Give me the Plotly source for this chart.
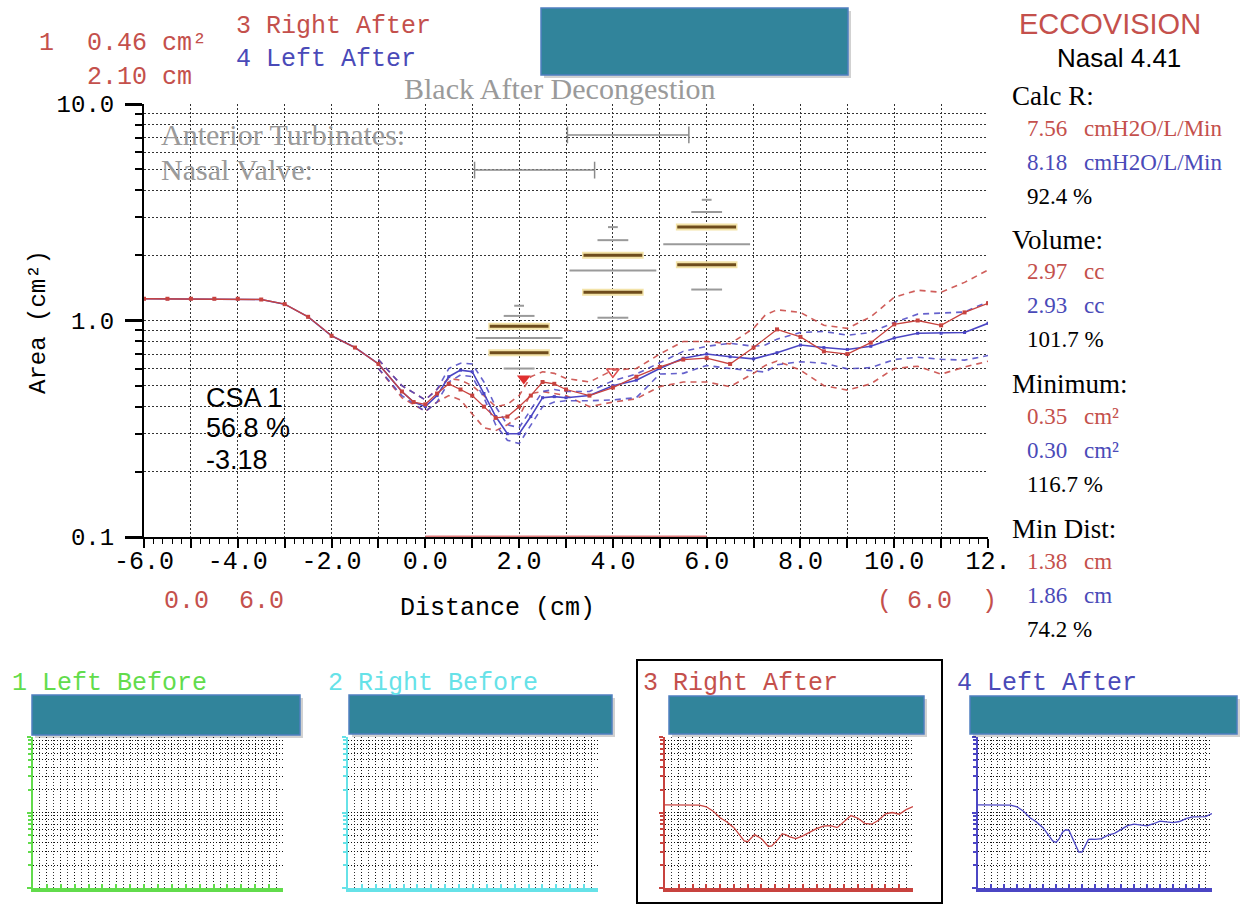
import plotly.graph_objects as go

W, H = 1252, 905

# ---------------- data ----------------
solid_x = [-6, -5.5, -5, -4.5, -4, -3.5, -3, -2.5, -2, -1.5, -1, -0.5, -0.25, 0, 0.25, 0.5, 0.75,
           1.0, 1.25, 1.5, 1.75, 2.0, 2.25, 2.5, 2.75, 3.0, 3.5, 4.0, 4.5, 5.0, 5.5, 6.0, 6.5,
           7.0, 7.5, 8.0, 8.5, 9.0, 9.5, 10.0, 10.5, 11.0, 11.5, 12.0]
right_after = [1.26, 1.26, 1.26, 1.26, 1.26, 1.25, 1.19, 1.04, 0.85, 0.75, 0.63, 0.47, 0.42, 0.41,
               0.46, 0.51, 0.48, 0.45, 0.40, 0.355, 0.36, 0.40, 0.45, 0.52, 0.51, 0.48, 0.45, 0.49,
               0.55, 0.61, 0.66, 0.67, 0.63, 0.75, 0.91, 0.84, 0.72, 0.70, 0.79, 0.96, 1.0, 0.95,
               1.09, 1.2]
left_after = [1.26, 1.26, 1.26, 1.26, 1.26, 1.25, 1.19, 1.04, 0.85, 0.75, 0.63, 0.47, 0.42, 0.40,
              0.45, 0.55, 0.59, 0.58, 0.46, 0.36, 0.30, 0.30, 0.36, 0.44, 0.445, 0.44, 0.45, 0.50,
              0.53, 0.60, 0.67, 0.70, 0.68, 0.665, 0.71, 0.77, 0.75, 0.735, 0.76, 0.83, 0.873,
              0.873, 0.88, 0.97]

band_x = [-1.0, -0.5, 0.0, 0.25, 0.5, 0.75, 1.0, 1.25, 1.5, 1.75, 2.0, 2.25, 2.5, 2.75, 3.0, 3.5,
          4.0, 4.5, 5.0, 5.5, 6.0, 6.5, 7.0, 7.25, 7.5, 8.0, 8.5, 9.0, 9.5, 10.0, 10.5, 11.0, 11.5, 12.0]
right_upper = [0.66, 0.50, 0.43, 0.48, 0.54, 0.53, 0.50, 0.45, 0.40, 0.41, 0.45, 0.55, 0.58, 0.57,
               0.54, 0.52, 0.59, 0.60, 0.70, 0.80, 0.80, 0.78, 0.92, 1.06, 1.12, 1.09, 0.95, 0.92,
               1.04, 1.28, 1.38, 1.35, 1.50, 1.71]
right_lower = [0.60, 0.44, 0.38, 0.42, 0.45, 0.43, 0.37, 0.32, 0.31, 0.33, 0.36, 0.46, 0.47, 0.46,
               0.45, 0.40, 0.42, 0.435, 0.495, 0.52, 0.52, 0.495, 0.57, 0.62, 0.65, 0.59, 0.50,
               0.477, 0.51, 0.60, 0.615, 0.565, 0.61, 0.648]
left_upper = [0.66, 0.50, 0.43, 0.48, 0.60, 0.635, 0.63, 0.52, 0.40, 0.33, 0.32, 0.39, 0.47, 0.48,
              0.47, 0.47, 0.527, 0.566, 0.64, 0.72, 0.76, 0.785, 0.76, 0.77, 0.82, 0.88, 0.89,
              0.855, 0.88, 0.98, 1.07, 1.085, 1.095, 1.22]
left_lower = [0.60, 0.45, 0.38, 0.42, 0.52, 0.56, 0.55, 0.44, 0.33, 0.28, 0.27, 0.33, 0.40, 0.42,
              0.426, 0.426, 0.43, 0.44, 0.566, 0.57, 0.62, 0.60, 0.583, 0.578, 0.625, 0.645, 0.635,
              0.598, 0.606, 0.66, 0.677, 0.662, 0.656, 0.689]

norm_x = [2.0, 4.0, 6.0]
norm_mean = [0.83, 1.70, 2.25]
norm_sd_hi = [0.94, 2.00, 2.70]
norm_sd_lo = [0.71, 1.35, 1.81]
norm_2sd_hi = [1.05, 2.35, 3.17]
norm_2sd_lo = [0.60, 1.03, 1.39]
norm_max = [1.17, 2.70, 3.61]

turbinate_range = [3.03, 5.62]
turbinate_level = [7.2, 7.2]
valve_range = [1.05, 3.61]
valve_level = [4.95, 4.95]

csa_x = [2.1]
csa_y = [0.54]
csa_open_x = [4.0]
csa_open_y = [0.58]

highlight_range = [0.0, 6.0]
highlight_level = [0.1, 0.1]

x_tickvals = list(range(-6, 13))
x_ticktext = ["-6.0", "", "-4.0", "", "-2.0", "", "0.0", "", "2.0", "", "4.0", "", "6.0", "",
              "8.0", "", "10.0", "", "12."]
y_tickvals = [0.1, 1, 10]
y_ticktext = ["0.1", "1.0", "10.0"]
y_minor = [0.2, 0.3, 0.4, 0.5, 0.6, 0.7, 0.8, 0.9, 2, 3, 4, 5, 6, 7, 8, 9]

stat_headers = ["Calc R:", "Volume:", "Minimum:", "Min Dist:"]
stat_right = ["7.56", "2.97", "0.35", "1.38"]
stat_left = ["8.18", "2.93", "0.30", "1.86"]
stat_units = ["cmH2O/L/Min", "cc", "cm²", "cm"]
stat_ratio = ["92.4 %", "101.7 %", "116.7 %", "74.2 %"]

panel_titles = ["1 Left Before", "2 Right Before", "3 Right After", "4 Left After"]

# ---------------- style ----------------
RED = "#c8433f"
BLUE = "#4b46c4"
TRED = "#c4504c"
TBLUE = "#4a4ab8"
GREY = "#9a9a9a"
BROWN = "#6e4c1c"
GLOW = "#f3e3a8"
TEAL = "#31849b"
TEAL_B = "#4f7fc0"
GRIDC = "#333333"
panel_colors = ["#62dc4c", "#66e2e8", RED, BLUE]
panel_x = [[33, 283], [348, 598], [665, 913], [978, 1212]]
panel_title_px = [10, 326, 641, 955]
panel_rect = [[32, 300, 695, 735], [349, 612, 695, 734], [669, 924, 696, 734], [970, 1237, 696, 734]]
panel_series = [None, None, right_after, left_after]

MONO = "Liberation Mono"
SERIF = "Liberation Serif"
SANS = "Liberation Sans"


def px2paper(px, py):
    return px / W, 1 - py / H


fig = go.Figure()

# main plot traces
for ys, col in [(right_upper, RED), (right_lower, RED), (left_upper, BLUE), (left_lower, BLUE)]:
    fig.add_trace(go.Scatter(x=band_x, y=ys, mode="lines",
                             line=dict(color=col, width=1.6, dash="6px,5px"), opacity=0.85))
fig.add_trace(go.Scatter(x=solid_x, y=left_after, mode="lines+markers",
                         line=dict(color=BLUE, width=1.6),
                         marker=dict(symbol="square", size=3, color=BLUE)))
fig.add_trace(go.Scatter(x=solid_x, y=right_after, mode="lines+markers",
                         line=dict(color=RED, width=1.3),
                         marker=dict(symbol="square", size=4, color=RED)))

# normative bars
fig.add_trace(go.Scatter(x=norm_x + norm_x, y=norm_sd_hi + norm_sd_lo, mode="markers",
                         marker=dict(symbol="line-ew", size=44, line=dict(color=GLOW, width=7))))
fig.add_trace(go.Scatter(x=norm_x + norm_x, y=norm_sd_hi + norm_sd_lo, mode="markers",
                         marker=dict(symbol="line-ew", size=42, line=dict(color=BROWN, width=3))))
fig.add_trace(go.Scatter(x=norm_x, y=norm_mean, mode="markers",
                         marker=dict(symbol="line-ew", size=62, line=dict(color=GREY, width=2))))
fig.add_trace(go.Scatter(x=norm_x + norm_x, y=norm_2sd_hi + norm_2sd_lo, mode="markers",
                         marker=dict(symbol="line-ew", size=22, line=dict(color=GREY, width=2))))
fig.add_trace(go.Scatter(x=norm_x, y=norm_max, mode="markers",
                         marker=dict(symbol="line-ew", size=7, line=dict(color=GREY, width=2))))

# anatomical ranges
for xr, yl in [(turbinate_range, turbinate_level), (valve_range, valve_level)]:
    fig.add_trace(go.Scatter(x=xr, y=yl, mode="lines+markers",
                             line=dict(color="#8a8a8a", width=1.5),
                             marker=dict(symbol="line-ns", size=12, line=dict(color="#8a8a8a", width=1.5))))

# CSA markers
fig.add_trace(go.Scatter(x=csa_x, y=csa_y, mode="markers",
                         marker=dict(symbol="triangle-down", size=12, color="#e03030")))
fig.add_trace(go.Scatter(x=csa_open_x, y=csa_open_y, mode="markers",
                         marker=dict(symbol="triangle-down-open", size=11, color="#e05050",
                                     line=dict(width=1.5))))

# highlighted distance segment
fig.add_trace(go.Scatter(x=highlight_range, y=highlight_level, mode="lines",
                         line=dict(color="#e07a7a", width=3), cliponaxis=False))

# small panels
for i in range(4):
    ax = i + 2
    ys = panel_series[i]
    if ys is not None:
        fig.add_trace(go.Scatter(x=solid_x, y=ys, mode="lines",
                                 line=dict(color=panel_colors[i], width=1.3),
                                 xaxis=f"x{ax}", yaxis=f"y{ax}"))
    else:
        fig.add_trace(go.Scatter(x=[None], y=[None], mode="lines",
                                 xaxis=f"x{ax}", yaxis=f"y{ax}"))

fig.update_traces(showlegend=False, hoverinfo="skip")

# ---------------- layout ----------------
x0, _ = px2paper(144, 0)
x1, _ = px2paper(988, 0)
_, y0 = px2paper(0, 537)
_, y1 = px2paper(0, 104)

layout = dict(
    template="none",
    width=W, height=H, margin=dict(l=0, r=0, t=0, b=0, pad=0),
    paper_bgcolor="white", plot_bgcolor="white", showlegend=False,
    xaxis=dict(domain=[x0, x1], range=[-6, 12], tickmode="array", tickvals=x_tickvals,
               ticktext=x_ticktext, showgrid=True, gridcolor=GRIDC, griddash="2px,2px", gridwidth=1,
               showline=True, linecolor="black", linewidth=2, ticks="outside", ticklen=9,
               tickwidth=2, tickcolor="black", zeroline=False, automargin=False,
               tickfont=dict(family=MONO, size=25, color="black"), ticklabelstandoff=-9,
               minor=dict(dtick=0.2, ticks="outside", ticklen=5, tickwidth=1, tickcolor="black",
                          showgrid=False)),
    yaxis=dict(domain=[y0, y1], type="log", range=[-1, 1], tickmode="array", tickvals=y_tickvals,
               ticktext=y_ticktext, showgrid=True, gridcolor=GRIDC, griddash="2px,2px",
               showline=True, linecolor="black", linewidth=2, ticks="outside", ticklen=17,
               tickwidth=3, tickcolor="black", zeroline=False, automargin=False,
               tickfont=dict(family=MONO, size=24, color="black"), ticklabelstandoff=6,
               minor=dict(tickmode="array", tickvals=y_minor, ticks="outside", ticklen=7,
                          tickwidth=2, tickcolor="black", showgrid=True, gridcolor=GRIDC,
                          griddash="2px,2px", gridwidth=1)),
)

_, py0 = px2paper(0, 888)
_, py1 = px2paper(0, 737)
for i in range(4):
    ax = i + 2
    a, _ = px2paper(panel_x[i][0], 0)
    b, _ = px2paper(panel_x[i][1], 0)
    c = panel_colors[i]
    layout[f"xaxis{ax}"] = dict(domain=[a, b], anchor=f"y{ax}", range=[-6, 12], dtick=1,
                                showticklabels=False, showgrid=True, gridcolor="#111111",
                                griddash="1px,2px", showline=True, linecolor=c, linewidth=4,
                                ticks="inside", ticklen=4, tickcolor=c, tickwidth=2,
                                zeroline=False, automargin=False,
                                minor=dict(dtick=0.5, showgrid=True, gridcolor="#333333",
                                           griddash="1px,2px", ticks=""))
    layout[f"yaxis{ax}"] = dict(domain=[py0, py1], anchor=f"x{ax}", type="log", range=[-1, 1],
                                tickmode="array", tickvals=y_tickvals, showticklabels=False,
                                showgrid=True, gridcolor="#111111", griddash="1px,2px",
                                showline=True, linecolor=c, linewidth=2, ticks="outside",
                                ticklen=4, tickcolor=c, tickwidth=2, zeroline=False,
                                automargin=False,
                                minor=dict(tickmode="array", tickvals=y_minor, showgrid=True,
                                           gridcolor="#111111", griddash="1px,2px",
                                           ticks="outside", ticklen=3, tickcolor=c))
fig.update_layout(**layout)


# ---------------- shapes ----------------
def rect(pxa, pxb, pya, pyb, fill, line_c=None, lw=0):
    xa, ya = px2paper(pxa, pyb)
    xb, yb = px2paper(pxb, pya)
    fig.add_shape(type="rect", xref="paper", yref="paper", x0=xa, x1=xb, y0=ya, y1=yb,
                  fillcolor=fill, line=dict(color=line_c or fill, width=lw), layer="above")


def teal_box(a, b, c, d):
    rect(a + 3, b + 3, c + 3, d + 3, "rgba(0,0,0,0.18)")
    rect(a, b, c, d, TEAL, TEAL_B, 1.5)


xa, ya = px2paper(637, 903)
xb, yb = px2paper(942, 660)
fig.add_shape(type="rect", xref="paper", yref="paper", x0=xa, x1=xb, y0=ya, y1=yb,
              line=dict(color="black", width=2), fillcolor="rgba(0,0,0,0)")

teal_box(541, 848, 8, 75)
for r in panel_rect:
    teal_box(*r)


# ---------------- text ----------------
def txt(s, px, py, color="black", family=MONO, size=22, anchor="left", angle=0):
    x, y = px2paper(px, py)
    fig.add_annotation(x=x, y=y, xref="paper", yref="paper", text=s, showarrow=False,
                       xanchor=anchor, yanchor="middle", textangle=angle,
                       font=dict(family=family, size=size, color=color))


txt("1", 37, 44, TRED, MONO, 25)
txt("0.46 cm²", 85, 44, TRED, MONO, 25)
txt("2.10 cm", 85, 78, TRED, MONO, 25)
txt(panel_titles[2], 234, 27, TRED, MONO, 25)
txt(panel_titles[3], 234, 59, TBLUE, MONO, 25)
txt("Black After Decongestion", 402, 88, GREY, SERIF, 30)
txt("Anterior Turbinates:", 159, 135, GREY, SERIF, 30)
txt("Nasal Valve:", 159, 170, GREY, SERIF, 30)
txt("CSA 1", 204, 398, "black", SANS, 27)
txt("56.8 %", 204, 428, "black", SANS, 27)
txt("-3.18", 204, 460, "black", SANS, 27)
txt("Area (cm²)", 38, 322, "black", MONO, 24, anchor="center", angle=-90)
txt("Distance (cm)", 497, 608, "black", MONO, 25, anchor="center")
txt("0.0  6.0", 162, 601, TRED, MONO, 25)
txt("( 6.0  )", 875, 601, TRED, MONO, 25)

txt("ECCOVISION", 1017, 24, TRED, SANS, 29)
txt("Nasal 4.41", 1055, 58, "black", SANS, 26)
head_py = [96, 240, 384, 529]
for k in range(4):
    base = head_py[k]
    txt(stat_headers[k], 1010, base, "black", SERIF, 27)
    txt(stat_right[k], 1025, base + 32, TRED, SERIF, 23)
    txt(stat_units[k], 1082, base + 32, TRED, SERIF, 23)
    txt(stat_left[k], 1025, base + 66, TBLUE, SERIF, 23)
    txt(stat_units[k], 1082, base + 66, TBLUE, SERIF, 23)
    txt(stat_ratio[k], 1025, base + 100, "black", SERIF, 23)

title_cols = [panel_colors[0], panel_colors[1], TRED, TBLUE]
for i in range(4):
    txt(panel_titles[i], panel_title_px[i], 683, title_cols[i], MONO, 25)

fig.write_html("out.html", config={"displayModeBar": False},
               post_script="document.body.style.margin='0px';")
